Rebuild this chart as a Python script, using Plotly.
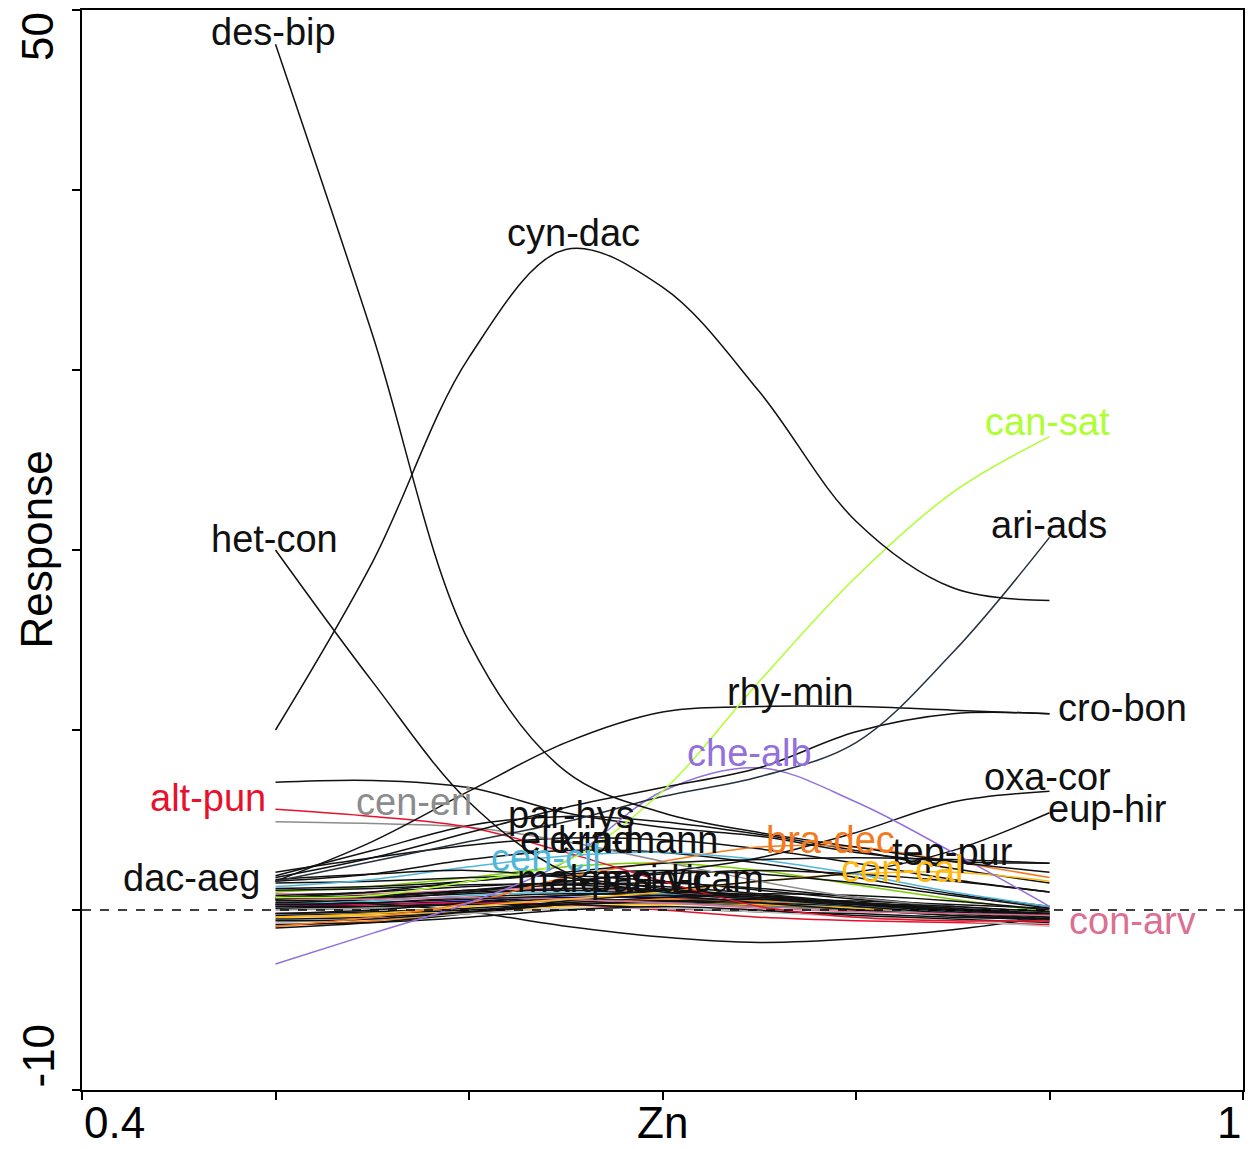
import plotly.graph_objects as go

# gradient positions (Zn)
zn = [0.50, 0.55, 0.60, 0.65, 0.70, 0.75, 0.80, 0.85, 0.90]

# labelled species responses
des_bip = [48.1, 32.0, 14.9, 7.7, 5.4, 4.3, 3.5, 2.7, 2.1]
cyn_dac = [10.0, 19.3, 30.7, 36.7, 34.6, 28.8, 21.6, 17.9, 17.2]
het_con = [20.0, 12.7, 6.0, 2.1, 1.0, 0.7, 0.4, 0.2, -0.1]
can_sat = [0.7, 0.8, 1.6, 2.7, 6.6, 12.7, 18.5, 23.2, 26.3]
ari_ads = [1.6, 2.7, 3.8, 4.9, 6.3, 7.4, 9.3, 14.3, 20.7]
rhy_min = [1.6, 3.8, 6.6, 9.3, 11.0, 11.3, 11.3, 11.1, 10.9]
cro_bon = [1.8, 2.9, 4.3, 5.7, 6.8, 7.9, 9.9, 10.9, 10.9]
oxa_cor = [0.6, 0.8, 1.1, 1.6, 2.1, 2.9, 4.3, 6.0, 6.6]
eup_hir = [0.3, 0.4, 0.6, 0.8, 1.1, 1.6, 2.1, 3.3, 5.4]
che_alb = [-3.0, -1.3, 0.4, 2.7, 6.6, 7.9, 6.0, 3.2, 0.2]
alt_pun = [5.6, 5.2, 4.6, 3.2, 1.6, 0.2, -0.4, -0.6, -0.6]
cen_eri = [4.9, 4.8, 4.6, 3.8, 2.7, 1.6, 0.7, 0.2, -0.1]
par_hys = [7.1, 7.2, 6.8, 5.4, 4.6, 4.1, 3.2, 2.7, 2.6]
dac_aeg = [1.7, 2.0, 2.2, 1.8, 1.2, 0.8, 0.4, 0.1, -0.2]
bra_dec = [-0.9, -0.4, 0.4, 1.8, 2.7, 3.5, 3.5, 2.7, 1.8]
con_cal = [-0.4, -0.2, 0.2, 0.6, 1.0, 1.6, 2.0, 2.1, 1.6]
tep_pur = [0.7, 1.0, 1.6, 2.1, 2.6, 2.8, 2.9, 2.8, 2.6]
con_arv = [0.6, 0.6, 0.7, 0.6, 0.4, 0.1, -0.1, -0.2, -0.3]
cen_cil = [1.3, 1.7, 2.4, 3.0, 3.2, 2.8, 2.0, 1.0, 0.2]

# other (unlabelled / hidden) species
sp_b01 = [1.9, 3.3, 4.7, 5.2, 4.9, 4.2, 3.3, 2.3, 1.5]
sp_b02 = [2.1, 2.9, 3.6, 4.0, 3.9, 3.4, 2.6, 1.7, 1.0]
sp_b03 = [1.0, 1.3, 1.8, 2.4, 2.6, 2.2, 1.4, 0.6, -0.1]
sp_b04 = [1.5, 1.6, 1.8, 1.9, 1.6, 1.1, 0.6, 0.2, -0.1]
sp_b05 = [0.9, 0.9, 1.1, 1.2, 1.0, 0.7, 0.4, 0.1, -0.2]
sp_b06 = [0.6, 0.7, 0.9, 1.2, 1.1, 0.8, 0.4, 0.1, -0.3]
sp_b07 = [0.2, 0.3, 0.5, 0.7, 0.7, 0.5, 0.3, 0.0, -0.2]
sp_b08 = [0.1, 0.2, 0.4, 0.6, 0.5, 0.3, 0.1, -0.1, -0.3]
sp_b09 = [-0.9, -0.6, -0.2, 0.4, 0.6, 0.5, 0.2, -0.1, -0.4]
sp_b10 = [-0.4, -0.3, -0.1, 0.2, 0.3, 0.3, 0.1, -0.1, -0.3]
sp_b11 = [-0.5, -0.4, -0.1, 0.3, 0.5, 0.4, 0.2, -0.1, -0.5]
sp_b12 = [-1.0, -0.7, -0.2, 0.3, 0.4, 0.2, 0.0, -0.3, -0.6]
sp_b13 = [0.0, 0.1, 0.3, 0.5, 0.4, 0.2, 0.0, -0.2, -0.6]
sp_b14 = [0.3, 0.3, 0.4, 0.3, 0.0, -0.4, -0.6, -0.7, -0.8]
sp_b15 = [0.8, 1.0, 1.3, 1.5, 1.3, 0.9, 0.4, 0.0, -0.3]
sp_b16 = [0.7, 0.8, 1.0, 1.1, 0.9, 0.6, 0.3, 0.0, -0.2]
sp_b17 = [0.55, 0.35, -0.1, -0.9, -1.5, -1.8, -1.6, -1.1, -0.4]
sp_b18 = [0.4, 0.5, 0.8, 1.0, 0.9, 0.6, 0.2, -0.1, -0.4]
sp_b19 = [0.2, 0.2, 0.3, 0.3, 0.1, -0.1, -0.2, -0.4, -0.5]
sp_b20 = [1.2, 1.3, 1.6, 2.0, 2.2, 2.0, 1.5, 0.8, 0.1]
sp_b21 = [-0.2, -0.1, 0.1, 0.4, 0.7, 0.9, 0.8, 0.5, 0.0]
sp_b22 = [-0.3, -0.2, 0.0, 0.3, 0.5, 0.6, 0.5, 0.3, 0.1]
sp_b23 = [-0.7, -0.5, -0.2, 0.1, 0.1, -0.1, -0.4, -0.6, -0.9]
sp_b24 = [0.4, 0.6, 1.0, 1.6, 2.0, 2.2, 2.0, 1.6, 1.0]
sp_b25 = [1.6, 2.0, 2.8, 3.3, 3.2, 2.6, 1.8, 0.9, 0.2]
sp_b26 = [-0.6, -0.5, -0.1, 0.5, 0.8, 0.6, 0.2, -0.2, -0.5]
sp_b27 = [0.3, 0.4, 0.7, 0.9, 0.8, 0.4, 0.0, -0.3, -0.5]
sp_b28 = [-0.2, 0.0, 0.4, 0.8, 1.0, 0.8, 0.4, 0.0, -0.4]
sp_b29 = [1.1, 1.2, 1.4, 1.4, 1.1, 0.7, 0.3, -0.1, -0.4]
sp_b30 = [-0.8, -0.7, -0.4, 0.0, 0.2, 0.0, -0.3, -0.5, -0.7]
sp_b31 = [0.5, 0.7, 1.1, 1.4, 1.5, 1.2, 0.7, 0.2, -0.2]

BLACK = "#111111"
background = [
    (sp_b01, BLACK), (sp_b02, BLACK), (sp_b03, "#7ccd00"), (sp_b04, BLACK),
    (sp_b05, "#db7093"), (sp_b06, BLACK), (sp_b07, "#000080"), (sp_b08, BLACK),
    (sp_b09, "#ff7f00"), (sp_b10, "#ffb90f"), (sp_b11, BLACK), (sp_b12, BLACK),
    (sp_b13, "#8c8c8c"), (sp_b14, "#e8112d"), (sp_b15, BLACK), (sp_b16, BLACK),
    (sp_b17, BLACK), (sp_b18, "#4fb8d8"), (sp_b19, BLACK), (sp_b20, BLACK),
    (sp_b21, BLACK), (sp_b22, BLACK), (sp_b23, "#bebebe"), (sp_b24, BLACK),
    (sp_b25, BLACK), (sp_b26, BLACK), (sp_b27, BLACK), (sp_b28, BLACK),
    (sp_b29, BLACK), (sp_b30, BLACK), (sp_b31, BLACK),
]

named = [
    (con_arv, "#db7093"), (con_cal, "#ffb90f"), (bra_dec, "#f47a20"),
    (cen_cil, "#4fb8d8"), (dac_aeg, BLACK), (tep_pur, BLACK), (eup_hir, BLACK),
    (oxa_cor, BLACK), (cen_eri, "#8c8c8c"), (alt_pun, "#e8112d"), (par_hys, BLACK),
    (che_alb, "#9370db"), (cro_bon, BLACK), (rhy_min, BLACK), (ari_ads, "#25313d"),
    (can_sat, "#adff2f"), (het_con, BLACK), (cyn_dac, BLACK), (des_bip, BLACK),
]

# label texts, positions and colours
lab_text = ["des-bip", "cyn-dac", "can-sat", "ari-ads", "het-con", "rhy-min",
            "cro-bon", "che-alb", "oxa-cor", "eup-hir", "alt-pun", "cen-eri",
            "par-hys", "ele-ind", "kra-mann", "bra-dec", "tep-pur", "con-cal",
            "cen-cil", "mal-par", "ama-vir", "sid-cam", "dac-aeg", "con-arv"]
lab_x = [0.499, 0.654, 0.899, 0.8995, 0.4995, 0.766, 0.9376, 0.745, 0.899, 0.930,
         0.465, 0.5716, 0.653, 0.6557, 0.6876, 0.7866, 0.850, 0.824,
         0.640, 0.658, 0.690, 0.718, 0.4567, 0.9428]
lab_y = [48.8, 37.6, 27.1, 21.4, 20.6, 12.1, 11.2, 8.7, 7.4, 5.6,
         6.2, 6.0, 5.3, 3.9, 3.9, 3.9, 3.2, 2.3,
         2.9, 1.7, 1.7, 1.7, 1.8, -0.6]
lab_col = [BLACK, BLACK, "#adff2f", BLACK, BLACK, BLACK, BLACK, "#9370db", BLACK, BLACK,
           "#e8112d", "#8c8c8c", BLACK, BLACK, BLACK, "#f47a20", BLACK, "#ffb90f",
           "#4fb8d8", BLACK, BLACK, BLACK, BLACK, "#db7093"]

fig = go.Figure()
for vals, col in background + named:
    fig.add_trace(go.Scatter(x=zn, y=vals, mode="lines",
                             line=dict(color=col, width=1.5, shape="spline", smoothing=1.0),
                             showlegend=False, hoverinfo="skip"))

FONT = "Liberation Sans, Arial, sans-serif"
annotations = []
for t, x, y, c in zip(lab_text, lab_x, lab_y, lab_col):
    annotations.append(dict(x=x, y=y, xref="x", yref="y", text=t, showarrow=False,
                            font=dict(family=FONT, size=38, color=c),
                            xanchor="center", yanchor="middle"))

AX = dict(family=FONT, size=44, color="black")
# axis texts (R-style: end labels and axis names in the tick row)
annotations += [
    dict(x=0.4, y=0, xref="x", yref="paper", text="0.4", showarrow=False, font=AX,
         xanchor="left", yanchor="top", yshift=-6),
    dict(x=0.7, y=0, xref="x", yref="paper", text="Zn", showarrow=False, font=AX,
         xanchor="center", yanchor="top", yshift=-6),
    dict(x=1.0, y=0, xref="x", yref="paper", text="1", showarrow=False, font=AX,
         xanchor="right", yanchor="top", yshift=-6),
    dict(x=0, y=50, xref="paper", yref="y", text="50", showarrow=False, font=AX,
         textangle=-90, xanchor="right", yanchor="top", xshift=-18),
    dict(x=0, y=20, xref="paper", yref="y", text="Response", showarrow=False, font=AX,
         textangle=-90, xanchor="right", yanchor="middle", xshift=-20),
    dict(x=0, y=-10, xref="paper", yref="y", text="-10", showarrow=False, font=AX,
         textangle=-90, xanchor="right", yanchor="bottom", xshift=-18),
]

fig.add_shape(type="line", xref="paper", yref="y", x0=0, x1=1, y0=0, y1=0,
              line=dict(color="black", width=1.5, dash="dash"))

fig.update_layout(
    width=1251, height=1149,
    margin=dict(l=82, r=6, t=10, b=59),
    paper_bgcolor="white", plot_bgcolor="white",
    annotations=annotations,
    xaxis=dict(range=[0.4, 1.0], tickvals=[0.4, 0.5, 0.6, 0.7, 0.8, 0.9, 1.0],
               showticklabels=False, ticks="outside", ticklen=8, tickwidth=1.5,
               tickcolor="black", showline=True, linecolor="black", linewidth=1.5,
               mirror=True, showgrid=False, zeroline=False),
    yaxis=dict(range=[-10, 50], tickvals=[-10, 0, 10, 20, 30, 40, 50],
               showticklabels=False, ticks="outside", ticklen=8, tickwidth=1.5,
               tickcolor="black", showline=True, linecolor="black", linewidth=1.5,
               mirror=True, showgrid=False, zeroline=False),
)

fig.write_html("out.html")
